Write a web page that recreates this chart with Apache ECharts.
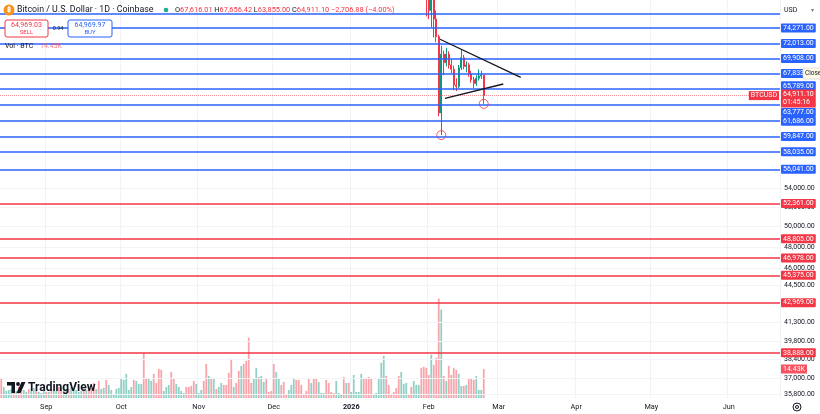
<!DOCTYPE html>
<html><head><meta charset="utf-8">
<script src="https://cdn.jsdelivr.net/npm/echarts@6/dist/echarts.min.js"></script>
<style>html,body{margin:0;padding:0;background:#fff}#c{width:820px;height:414px}</style>
</head><body><div id="c"></div>
<script>
// ---------- DATA ----------
const firstDay = [2025, 7, 14];   // 2025-08-14 (UTC, month 0-based)
const dayCount = 312;
const categories = [];
for (let i = 0; i < dayCount; i++) {
  categories.push(new Date(Date.UTC(firstDay[0], firstDay[1], firstDay[2] + i)).toISOString().slice(0, 10));
}
const monthNames = ['Jan','Feb','Mar','Apr','May','Jun','Jul','Aug','Sep','Oct','Nov','Dec'];

// volume (K BTC), one per day from 2025-08-14
const vol = [
 10,5.5,3.5,4,4.5,3,3.5,5.5,6,4,
 3,4.5,3.5,5,4,3,2.5,3.5,3,3,
 4.5,4,3.5,5.5,5,6,4,4.5,5.5,3.5,
 4,3,3.5,4.5,4,6,5,7.5,4.5,8.5,
 4.5,5,9,6.5,4,2,4.5,5,9.5,9,
 12,4,5.5,9,8.5,7,7,22.5,10,9.5,
 8.5,12,7.5,14.5,14,3.5,5.5,6.5,13,9.5,
 7,5.5,3.5,2.5,5.5,5.5,6,8.5,7,2.5,
 4,8.5,17,11,10,10,4.5,5.5,7.5,6.5,
 6.5,12.5,19.5,5.5,7.5,13.5,16,17,18.5,30,
 7.5,9.5,15,10.5,11,8,10,3,3.5,17,
 13,9.5,6.5,8,2,4,6.5,10,9,9,
 6.5,1.5,3.5,10,7.5,10,10,8,2.5,2.5,
 9,7.5,3,2.5,8.5,2.5,2,10.5,7.5,7.5,
 3,11.5,3,3,12,10,10,10.5,9.5,2,
 2.5,10,17.5,21,11,6.5,2,3,5,11,
 13,7,7.5,2,5.5,8.5,6.5,6.5,15,15.5,
 15,11.5,21.5,16.5,20,49.5,44,11,8.5,16,
 11.5,15,14,12,6,6,6.5,9.5,10,9,
 11,4,4,14.43
];
// 1 = up day (teal), 0 = down day (red)
const volUp = [
 0,1,1,1,1,0,1,0,0,1,
 1,0,1,1,0,1,1,1,0,1,
 0,1,1,0,0,1,1,0,1,1,
 1,1,1,0,1,0,0,0,1,0,
 1,1,0,1,1,1,1,1,1,1,
 1,1,1,0,1,1,1,0,0,1,
 1,0,0,0,0,1,1,1,0,0,
 1,1,1,1,0,0,0,0,1,1,
 1,0,0,1,0,1,0,1,1,0,
 0,0,0,1,0,0,1,0,0,0,
 0,1,1,0,1,1,0,0,0,0,
 1,1,0,0,0,1,1,1,0,0,
 0,0,0,0,1,0,0,1,1,1,
 0,0,0,0,1,1,1,0,1,0,
 1,1,1,1,1,0,0,0,0,1,
 1,1,1,1,0,0,0,0,0,0,
 1,1,1,0,0,1,1,1,0,0,
 0,0,1,0,0,0,1,0,1,0,
 0,0,0,1,1,0,1,0,0,0,
 1,1,1,0
];

// daily candles [open, close, low, high], starting at day index candleStart (2026-01-25)
const candleStart = 165;
const candles = [
 [86100,88300,86000,88900],
 [88300,89000,87800,89500],
 [89000,89300,88600,90400],
 [89300,84600,83300,89400],
 [84600,84100,81100,84700],
 [84100,78600,76000,84200],
 [78600,76900,75600,79200],
 [76900,78700,74400,79300],
 [78700,75600,72900,79000],
 [75600,73000,72200,76900],
 [73000,62700,62300,73300],
 [62700,70500,60000,71700],
 [70500,69300,67600,71000],
 [69300,70500,68800,71400],
 [70500,69000,68500,70900],
 [69000,68400,67900,69800],
 [68400,66300,65600,68900],
 [66300,66100,65500,67200],
 [66100,68600,65900,69000],
 [68600,70000,68300,71100],
 [70000,68800,68400,70400],
 [68800,69000,68000,69500],
 [69000,67800,67400,69300],
 [67800,67000,66600,68200],
 [67000,66500,65900,67400],
 [66500,67200,66200,67600],
 [67200,67500,66900,68400],
 [67500,67617.98,67100,68200],
 [67616.01,64911.10,63855.00,67656.42]
];

// horizontal price levels
const levelsBlue = [76371, 74271, 72013, 69908, 67833, 65789, 63777, 61686, 59847, 58035, 56041];
const levelsRed = [52361, 48805, 46978, 45375, 42969, 38888];
// right price-scale tick labels
const axisTicks = [54000, 52000, 50000, 48000, 46000, 44500, 41300, 39800, 38400, 37000, 35800];
// drawn triangle trend lines: [dayIndex, price]
const trendLines = [
 [[175.5, 72620], [207.8, 67320]],
 [[177.5, 64560], [200.8, 66430]]
];
// circled lows: [dayIndex, price]
const lowMarks = [[176, 60000], [193, 63855]];
const bidAsk = {sell: 64969.03, buy: 64969.97, spread: '0.94'};
const countdown = '01:45:16';

// ---------- CHART ----------
const FONT = 'Roboto, "Noto Sans", sans-serif';
const UP = '#089981', DN = '#F23645', BLUE = '#2962FF', INK = '#131722';
const VOL_UP = 'rgba(8,153,129,0.45)', VOL_DN = 'rgba(242,54,69,0.45)';
const NOLINE = {color: 'rgba(0,0,0,0)', width: 0};
const fmt = v => Number(v).toLocaleString('en-US', {minimumFractionDigits: 2, maximumFractionDigits: 2});

const last = candles[candles.length - 1];
const prevClose = candles[candles.length - 2][1];
const chg = last[1] - prevClose;
const chgPct = chg / prevClose * 100;
const signed = x => (x < 0 ? '\u2212' : '+') + fmt(Math.abs(x));

const labelOffsets = {65789: [0, -3], 63777: [0, 8]};
function levelItem(v, color, showLabel) {
  return {
    yAxis: v,
    lineStyle: {color: color, width: 1.5, type: 'solid'},
    label: {
      show: showLabel, position: 'end', distance: 1, formatter: fmt(v),
      color: '#fff', backgroundColor: color, fontSize: 7, lineHeight: 8,
      padding: [1, 2, 0, 2], borderRadius: 1, fontFamily: FONT,
      offset: labelOffsets[v] || [0, 0]
    }
  };
}
const levelData = levelsBlue.map((v, i) => levelItem(v, BLUE, i > 0))
  .concat(levelsRed.map(v => levelItem(v, DN, true)));

const option = {
  animation: false,
  backgroundColor: '#fff',
  grid: {left: 0, right: 40, top: 0, bottom: 16},
  xAxis: [
    {
      type: 'category', data: categories, boundaryGap: true,
      axisLine: {show: false}, axisTick: {show: false},
      axisLabel: {
        interval: (i, v) => v.slice(8) === '01',
        formatter: v => { const m = +v.slice(5, 7); return m === 1 ? '{b|' + v.slice(0, 4) + '}' : monthNames[m - 1]; },
        color: INK, fontSize: 7.3, margin: 6, fontFamily: FONT,
        rich: {b: {fontWeight: 'bold', fontSize: 7.3, color: INK, fontFamily: FONT}}
      },
      splitLine: {show: true, interval: (i, v) => v.slice(8) === '01', lineStyle: {color: '#f0f2f5', width: 1}}
    },
    {type: 'value', min: -0.5, max: dayCount - 0.5, show: false}
  ],
  yAxis: [
    {type: 'log', logBase: 10, position: 'right', min: 35540, max: 78530,
     axisLine: {show: false}, axisTick: {show: false}, axisLabel: {show: false}, splitLine: {show: false}},
    {type: 'value', min: 0, max: 198, show: false}
  ],
  series: [
    {
      type: 'bar', xAxisIndex: 0, yAxisIndex: 1, barWidth: '72%', z: 1, silent: true,
      data: vol.map((v, i) => ({value: v, itemStyle: {color: volUp[i] ? VOL_UP : VOL_DN}})),
      markLine: {silent: true, symbol: ['none', 'none'], animation: false, data: [{
        yAxis: vol[vol.length - 1], lineStyle: NOLINE,
        label: {position: 'end', distance: 1, formatter: vol[vol.length - 1] + 'K', color: '#fff',
                backgroundColor: '#F7525F', fontSize: 7, lineHeight: 8, padding: [1, 2, 0, 2], fontFamily: FONT}
      }]}
    },
    {
      type: 'line', xAxisIndex: 0, yAxisIndex: 0, data: [], z: 2, silent: true,
      markLine: {silent: true, symbol: ['none', 'none'], animation: false,
        lineStyle: {color: '#f3f4f7', width: 1, type: 'solid'},
        label: {position: 'end', distance: 4, color: INK, fontSize: 7, fontFamily: FONT, formatter: p => fmt(p.value)},
        data: axisTicks.map(v => ({yAxis: v}))}
    },
    {
      type: 'candlestick', xAxisIndex: 0, yAxisIndex: 0, z: 3, silent: true, barWidth: '75%',
      encode: {x: 0, y: [1, 2, 3, 4]},
      data: candles.map((c, k) => [candleStart + k, c[0], c[1], c[2], c[3]]),
      itemStyle: {color: UP, color0: DN, borderColor: UP, borderColor0: DN, borderWidth: 1}
    },
    {
      type: 'line', xAxisIndex: 0, yAxisIndex: 0, data: [], z: 4, silent: true,
      markLine: {silent: true, symbol: ['none', 'none'], animation: false, data: levelData}
    },
    ...trendLines.map(seg => ({
      type: 'line', xAxisIndex: 1, yAxisIndex: 0, data: seg, symbol: 'none', z: 5, silent: true,
      lineStyle: {color: INK, width: 1.3}
    })),
    {
      type: 'scatter', xAxisIndex: 0, yAxisIndex: 0, data: lowMarks, symbol: 'circle', symbolSize: 9, z: 6, silent: true,
      itemStyle: {color: 'rgba(0,0,0,0)', borderColor: DN, borderWidth: 1}
    },
    {
      type: 'line', xAxisIndex: 0, yAxisIndex: 0, data: [], z: 7, silent: true,
      markLine: {silent: true, symbol: ['none', 'none'], animation: false, data: [
        {yAxis: last[1], lineStyle: {type: 'dotted', color: 'rgba(242,54,69,0.55)', width: 1},
         label: {position: 'end', distance: 1, formatter: '{a|' + fmt(last[1]) + '}\n{a|' + countdown + '}',
                 backgroundColor: DN, padding: [1, 2, 1, 2], offset: [0, 3],
                 rich: {a: {color: '#fff', fontSize: 7, lineHeight: 8, fontFamily: FONT}}}},
        {yAxis: last[1], lineStyle: NOLINE,
         label: {position: 'insideEnd', distance: 1, formatter: 'BTCUSD', color: '#fff', backgroundColor: DN,
                 fontSize: 7, lineHeight: 8, padding: [1, 2, 0, 2], fontFamily: FONT}}
      ]}
    }
  ],
  graphic: []
};

function T(x, y, text, o) {
  o = o || {};
  return {type: 'text', x: x, y: y, z: 100, silent: true, style: Object.assign({
    text: text, fill: INK, fontSize: 7, fontFamily: FONT,
    textAlign: o.align || 'left', align: o.align || 'left',
    textVerticalAlign: 'middle', verticalAlign: 'middle'
  }, o.style || {})};
}
const g = option.graphic;
// header
g.push({type: 'circle', z: 100, shape: {cx: 9, cy: 10, r: 5.5}, style: {fill: '#F7931A'}});
g.push(T(9, 10.5, '\u20BF', {align: 'center', style: {fill: '#fff', fontSize: 7, fontWeight: 'bold'}}));
g.push(T(17, 10, 'Bitcoin / U.S. Dollar \u00B7 1D \u00B7 Coinbase', {style: {fontSize: 8.8}}));
g.push({type: 'circle', z: 100, shape: {cx: 166, cy: 10, r: 2.3}, style: {fill: '#22ab94'}});
g.push(T(175, 10,
  '{k|O}{v|' + fmt(last[0]) + '} {k|H}{v|' + fmt(last[3]) + '} {k|L}{v|' + fmt(last[2]) + '} {k|C}{v|' + fmt(last[1]) +
  '} {v|' + signed(chg) + ' (' + signed(chgPct) + '%)}',
  {style: {rich: {k: {fill: INK, color: INK, fontSize: 7.4, fontFamily: FONT}, v: {fill: DN, color: DN, fontSize: 7.4, fontFamily: FONT}}}}));
// sell / buy
g.push({type: 'rect', z: 100, shape: {x: 5, y: 20, width: 43, height: 17, r: 2}, style: {fill: '#fff', stroke: DN, lineWidth: 1}});
g.push(T(26.5, 25, fmt(bidAsk.sell), {align: 'center', style: {fill: DN, fontSize: 7}}));
g.push(T(26.5, 32.5, 'SELL', {align: 'center', style: {fill: DN, fontSize: 6}}));
g.push(T(58, 28.5, bidAsk.spread, {align: 'center', style: {fill: INK, fontSize: 5.5}}));
g.push({type: 'rect', z: 100, shape: {x: 68, y: 20, width: 44, height: 17, r: 2}, style: {fill: '#fff', stroke: BLUE, lineWidth: 1}});
g.push(T(90, 25, fmt(bidAsk.buy), {align: 'center', style: {fill: BLUE, fontSize: 7}}));
g.push(T(90, 32.5, 'BUY', {align: 'center', style: {fill: BLUE, fontSize: 6}}));
// volume legend
g.push(T(5, 46, 'Vol \u00B7 BTC', {style: {fontSize: 7}}));
g.push(T(40, 46, vol[vol.length - 1] + 'K', {style: {fill: '#F7525F', fontSize: 7, opacity: 0.75}}));
// USD selector
g.push({type: 'rect', z: 100, shape: {x: 781, y: 2, width: 38, height: 16}, style: {fill: '#fff'}});
g.push(T(784, 10.5, 'USD', {style: {fontSize: 7}}));
g.push(T(811, 10.5, '\u25BE', {style: {fontSize: 6, fill: '#787b86'}}));
// "Close" hint tag
g.push({type: 'rect', z: 101, shape: {x: 803, y: 68, width: 20, height: 11, r: 1}, style: {fill: '#fffbe8', stroke: '#c9c9c9', lineWidth: 0.6}});
g.push(Object.assign(T(805, 73.5, 'Close', {style: {fontSize: 6.5}}), {z: 102}));
// TradingView logo
g.push({type: 'polygon', z: 100, shape: {points: [[7,382],[15,382],[15,393],[11.5,393],[11.5,385.5],[7,385.5]]}, style: {fill: INK}});
g.push({type: 'circle', z: 100, shape: {cx: 18, cy: 384, r: 1.9}, style: {fill: INK}});
g.push({type: 'polygon', z: 100, shape: {points: [[21.5,382],[25.5,382],[20.5,393],[16.5,393]]}, style: {fill: INK}});
g.push(T(28, 388, 'TradingView', {style: {fontSize: 12, fontWeight: 'bold', fill: INK}}));
// settings gear
g.push({type: 'circle', z: 100, shape: {cx: 797, cy: 407, r: 4}, style: {fill: 'none', stroke: INK, lineWidth: 1}});
g.push({type: 'circle', z: 100, shape: {cx: 797, cy: 407, r: 1.5}, style: {fill: 'none', stroke: INK, lineWidth: 1}});

const chart = echarts.init(document.getElementById('c'), null, {renderer: 'canvas'});
chart.setOption(option);
</script>
</body></html>
